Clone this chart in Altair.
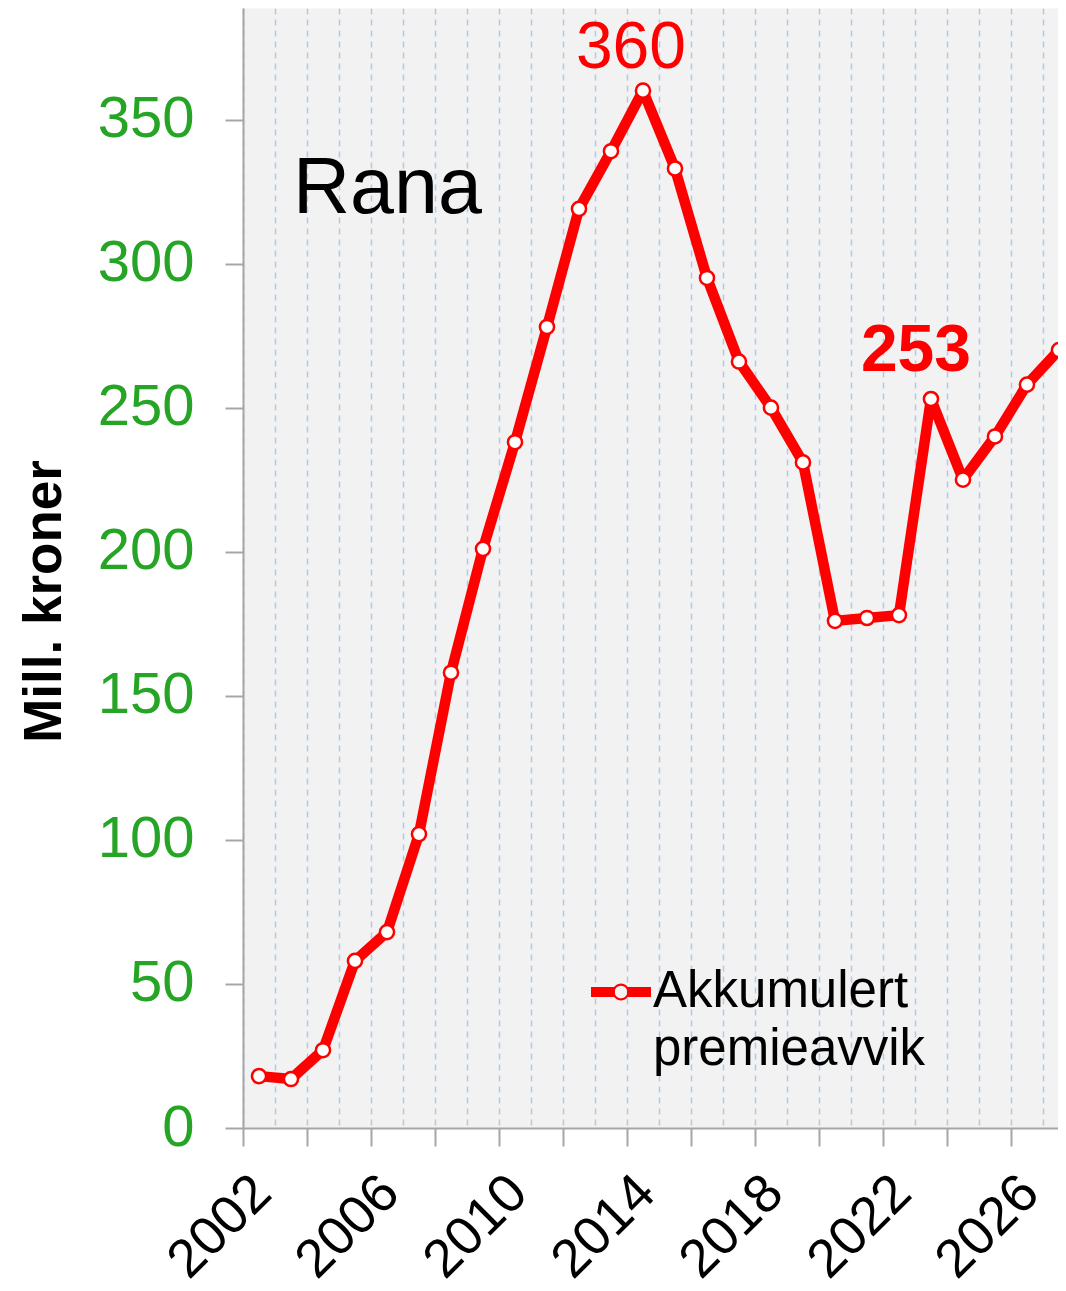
import altair as alt
import pandas as pd

# ---- data ----
years = [2002.5, 2003.5, 2004.5, 2005.5, 2006.5, 2007.5, 2008.5, 2009.5,
         2010.5, 2011.5, 2012.5, 2013.5, 2014.5, 2015.5, 2016.5, 2017.5,
         2018.5, 2019.5, 2020.5, 2021.5, 2022.5, 2023.5, 2024.5, 2025.5,
         2026.5, 2027.5]
values = [18, 17, 27, 58, 68, 102, 158, 201,
          238, 278, 319, 339, 360, 333, 295, 266,
          250, 231, 176, 177, 178, 253, 225, 240,
          258, 270]
series_name = "Akkumulert premieavvik"
legend_lines = ["Akkumulert", "premieavvik"]

peak_year = [2014.5]
peak_value = [360]
peak_text = ["360"]
mark_year = [2023.5]
mark_value = [253]
mark_text = ["253"]

x_tick_years = [2002, 2003, 2004, 2005, 2006, 2007, 2008, 2009, 2010, 2011,
                2012, 2013, 2014, 2015, 2016, 2017, 2018, 2019, 2020, 2021,
                2022, 2023, 2024, 2025, 2026, 2027]
y_ticks = [0, 50, 100, 150, 200, 250, 300, 350]

title_text = "Rana"
y_title = "Mill. kroner"

FONT = "Liberation Sans"
RED = "#ff0000"
GREEN = "#25a425"
AXIS_GRAY = "#a6a6a6"

df = pd.DataFrame({"year": years, "value": values, "serie": series_name})
peak_df = pd.DataFrame({"year": peak_year, "value": peak_value, "label": peak_text})
mark_df = pd.DataFrame({"year": mark_year, "value": mark_value, "label": mark_text})

x_scale = alt.Scale(domain=[2002, 2027.47], nice=False, zero=False)
y_scale = alt.Scale(domain=[0, 388.7], nice=False, zero=True)

x_axis = alt.Axis(
    values=x_tick_years, format="d",
    labelExpr="(datum.value - 2002) % 4 == 0 ? datum.label : ''",
    labelAngle=315, labelAlign="right", labelBaseline="top",
    labelFont=FONT, labelFontSize=54, labelColor="black", labelPadding=19,
    labelOverlap=False, labelFlush=False, labelBound=False,
    tickSize=18, tickColor=AXIS_GRAY, tickWidth=2,
    tickOpacity={"condition": {"test": "datum.value % 2 == 0", "value": 1}, "value": 0},
    domainColor=AXIS_GRAY, domainWidth=2,
    grid=True, gridColor="#b4cae8", gridOpacity=1, gridDash=[6, 5], gridWidth=1.5,
    title=None,
)
y_axis = alt.Axis(
    values=y_ticks, format="d",
    labelFont=FONT, labelFontSize=58, labelColor=GREEN, labelPadding=31,
    labelOverlap=False, labelFlush=False, labelBound=False,
    tickSize=18, tickColor=AXIS_GRAY, tickWidth=2,
    domainColor=AXIS_GRAY, domainWidth=2,
    grid=False,
    title=y_title, titleFont=FONT, titleFontSize=53, titleFontWeight="bold",
    titleColor="black", titleAngle=270, titleAlign="center",
    titleBaseline="middle", titleX=-199, titleY=593,
)

X = alt.X("year:Q", scale=x_scale, axis=x_axis)
Y = alt.Y("value:Q", scale=y_scale, axis=y_axis)

# legend symbol: thick red line with a small white circle, drawn slightly up
legend_path = (
    "M-1,-0.67 L-0.2,-0.67 L-0.2,-0.33 L-1,-0.33 Z "
    "M0.2,-0.67 L1,-0.67 L1,-0.33 L0.2,-0.33 Z "
    "M0.28,-0.5 A0.28,0.28 0 1,1 -0.28,-0.5 A0.28,0.28 0 1,1 0.28,-0.5 Z "
    "M0.21,-0.5 A0.21,0.21 0 1,0 -0.21,-0.5 A0.21,0.21 0 1,0 0.21,-0.5 Z"
)

legend = alt.Legend(
    title=None, orient="none", legendX=348, legendY=969, padding=0,
    symbolType=legend_path, symbolSize=3600,
    symbolFillColor=RED, symbolStrokeColor="transparent", symbolStrokeWidth=0,
    symbolOpacity=1,
    labelExpr="['" + legend_lines[0] + "', '" + legend_lines[1] + "']",
    labelFont=FONT, labelFontSize=51, labelColor="black",
    labelBaseline="alphabetic", labelOffset=2, labelLimit=600,
)

line = alt.Chart(df).mark_line(strokeWidth=10.5, strokeJoin="round", strokeCap="round").encode(
    x=X, y=Y,
    color=alt.Color("serie:N", scale=alt.Scale(domain=[series_name], range=[RED]), legend=legend),
)
points = alt.Chart(df).mark_point(
    filled=True, fill="white", stroke=RED, strokeWidth=2.5, size=200, opacity=1
).encode(x=X, y=Y)

peak_label = alt.Chart(peak_df).mark_text(
    font=FONT, fontSize=66, color=RED, align="center", baseline="alphabetic", dx=-12, dy=-23
).encode(x=X, y=Y, text="label:N")
mark_label = alt.Chart(mark_df).mark_text(
    font=FONT, fontSize=66, fontWeight="bold", color=RED, align="center",
    baseline="alphabetic", dx=-15, dy=-28
).encode(x=X, y=Y, text="label:N")

chart = alt.layer(line, points, peak_label, mark_label).properties(
    width=815, height=1120,
    autosize=alt.AutoSizeParams(type="none"),
    padding={"left": 235, "top": 0, "right": 0, "bottom": 160},
    title=alt.TitleParams(
        text=title_text, anchor="start", frame="group", orient="top",
        baseline="alphabetic", offset=0, dx=50, dy=284,
        font=FONT, fontSize=79, fontWeight="normal", color="black",
    ),
).configure(
    style={"guide-label": {"lineHeight": 58}}
).configure_view(
    fill="#f2f2f2", stroke="transparent"
)

chart.save("out.html", embed_options={"renderer": "svg", "actions": False})
